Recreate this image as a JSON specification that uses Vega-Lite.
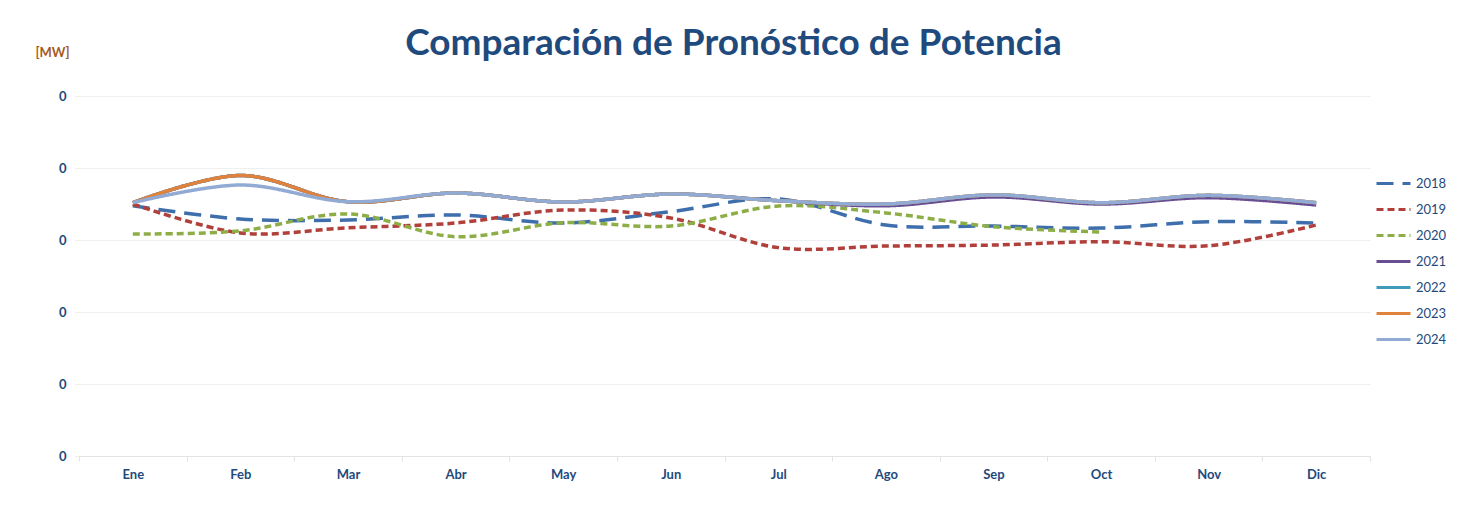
{
  "$schema": "https://vega.github.io/schema/vega-lite/v6.json",
  "width": 1291,
  "height": 360,
  "autosize": {"type": "none"},
  "padding": {"left": 79, "top": 96, "right": 92, "bottom": 60},
  "background": "white",
  "title": {
    "text": "Comparación de Pronóstico de Potencia",
    "font": "Lato",
    "fontSize": 37,
    "fontWeight": "bold",
    "color": "#1F4A7D",
    "anchor": "middle",
    "dx": 9,
    "dy": 37,
    "offset": 20
  },
  "data": {
    "values": [
      {"mes": "Ene", "anio": "2018", "valor": 0.1738},
      {"mes": "Feb", "anio": "2018", "valor": 0.1646},
      {"mes": "Mar", "anio": "2018", "valor": 0.1639},
      {"mes": "Abr", "anio": "2018", "valor": 0.1674},
      {"mes": "May", "anio": "2018", "valor": 0.1618},
      {"mes": "Jun", "anio": "2018", "valor": 0.1697},
      {"mes": "Jul", "anio": "2018", "valor": 0.1785},
      {"mes": "Ago", "anio": "2018", "valor": 0.1604},
      {"mes": "Sep", "anio": "2018", "valor": 0.1597},
      {"mes": "Oct", "anio": "2018", "valor": 0.1583},
      {"mes": "Nov", "anio": "2018", "valor": 0.1627},
      {"mes": "Dic", "anio": "2018", "valor": 0.1618},
      {"mes": "Ene", "anio": "2019", "valor": 0.1750},
      {"mes": "Feb", "anio": "2019", "valor": 0.1549},
      {"mes": "Mar", "anio": "2019", "valor": 0.1585},
      {"mes": "Abr", "anio": "2019", "valor": 0.1618},
      {"mes": "May", "anio": "2019", "valor": 0.1708},
      {"mes": "Jun", "anio": "2019", "valor": 0.1653},
      {"mes": "Jul", "anio": "2019", "valor": 0.1447},
      {"mes": "Ago", "anio": "2019", "valor": 0.1458},
      {"mes": "Sep", "anio": "2019", "valor": 0.1465},
      {"mes": "Oct", "anio": "2019", "valor": 0.1488},
      {"mes": "Nov", "anio": "2019", "valor": 0.1460},
      {"mes": "Dic", "anio": "2019", "valor": 0.1604},
      {"mes": "Ene", "anio": "2020", "valor": 0.1542},
      {"mes": "Feb", "anio": "2020", "valor": 0.1563},
      {"mes": "Mar", "anio": "2020", "valor": 0.1681},
      {"mes": "Abr", "anio": "2020", "valor": 0.1523},
      {"mes": "May", "anio": "2020", "valor": 0.1620},
      {"mes": "Jun", "anio": "2020", "valor": 0.1597},
      {"mes": "Jul", "anio": "2020", "valor": 0.1736},
      {"mes": "Ago", "anio": "2020", "valor": 0.1688},
      {"mes": "Sep", "anio": "2020", "valor": 0.1592},
      {"mes": "Oct", "anio": "2020", "valor": 0.1556},
      {"mes": "Ene", "anio": "2021", "valor": 0.1759},
      {"mes": "Feb", "anio": "2021", "valor": 0.1948},
      {"mes": "Mar", "anio": "2021", "valor": 0.1766},
      {"mes": "Abr", "anio": "2021", "valor": 0.1826},
      {"mes": "May", "anio": "2021", "valor": 0.1764},
      {"mes": "Jun", "anio": "2021", "valor": 0.1819},
      {"mes": "Jul", "anio": "2021", "valor": 0.1773},
      {"mes": "Ago", "anio": "2021", "valor": 0.1738},
      {"mes": "Sep", "anio": "2021", "valor": 0.1799},
      {"mes": "Oct", "anio": "2021", "valor": 0.1750},
      {"mes": "Nov", "anio": "2021", "valor": 0.1794},
      {"mes": "Dic", "anio": "2021", "valor": 0.1743},
      {"mes": "Ene", "anio": "2022", "valor": 0.1759},
      {"mes": "Feb", "anio": "2022", "valor": 0.1948},
      {"mes": "Mar", "anio": "2022", "valor": 0.1766},
      {"mes": "Abr", "anio": "2022", "valor": 0.1826},
      {"mes": "May", "anio": "2022", "valor": 0.1764},
      {"mes": "Jun", "anio": "2022", "valor": 0.1819},
      {"mes": "Jul", "anio": "2022", "valor": 0.1773},
      {"mes": "Ago", "anio": "2022", "valor": 0.1750},
      {"mes": "Sep", "anio": "2022", "valor": 0.1813},
      {"mes": "Oct", "anio": "2022", "valor": 0.1759},
      {"mes": "Nov", "anio": "2022", "valor": 0.1810},
      {"mes": "Dic", "anio": "2022", "valor": 0.1759},
      {"mes": "Ene", "anio": "2023", "valor": 0.1759},
      {"mes": "Feb", "anio": "2023", "valor": 0.1948},
      {"mes": "Mar", "anio": "2023", "valor": 0.1766},
      {"mes": "Abr", "anio": "2023", "valor": 0.1826},
      {"mes": "May", "anio": "2023", "valor": 0.1764},
      {"mes": "Jun", "anio": "2023", "valor": 0.1819},
      {"mes": "Jul", "anio": "2023", "valor": 0.1773},
      {"mes": "Ago", "anio": "2023", "valor": 0.1750},
      {"mes": "Sep", "anio": "2023", "valor": 0.1813},
      {"mes": "Oct", "anio": "2023", "valor": 0.1759},
      {"mes": "Nov", "anio": "2023", "valor": 0.1810},
      {"mes": "Dic", "anio": "2023", "valor": 0.1759},
      {"mes": "Ene", "anio": "2024", "valor": 0.1759},
      {"mes": "Feb", "anio": "2024", "valor": 0.1882},
      {"mes": "Mar", "anio": "2024", "valor": 0.1766},
      {"mes": "Abr", "anio": "2024", "valor": 0.1826},
      {"mes": "May", "anio": "2024", "valor": 0.1764},
      {"mes": "Jun", "anio": "2024", "valor": 0.1819},
      {"mes": "Jul", "anio": "2024", "valor": 0.1773},
      {"mes": "Ago", "anio": "2024", "valor": 0.1750},
      {"mes": "Sep", "anio": "2024", "valor": 0.1813},
      {"mes": "Oct", "anio": "2024", "valor": 0.1759},
      {"mes": "Nov", "anio": "2024", "valor": 0.1810},
      {"mes": "Dic", "anio": "2024", "valor": 0.1759}
    ]
  },
  "mark": {"type": "line", "interpolate": "cardinal", "strokeWidth": 3.5, "strokeCap": "butt"},
  "encoding": {
    "x": {
      "field": "mes",
      "type": "ordinal",
      "sort": ["Ene", "Feb", "Mar", "Abr", "May", "Jun", "Jul", "Ago", "Sep", "Oct", "Nov", "Dic"],
      "scale": {"type": "band", "paddingInner": 0, "paddingOuter": 0},
      "bandPosition": 0.5,
      "axis": {
        "title": null,
        "labelAngle": 0,
        "labelFont": "Lato",
        "labelFontWeight": "bold",
        "labelFontSize": 13,
        "labelColor": "#1F4A7D",
        "labelPadding": 7,
        "tickBand": "extent",
        "tickSize": 5,
        "tickColor": "#E3E3E3",
        "domainColor": "#E3E3E3",
        "grid": false
      }
    },
    "y": {
      "field": "valor",
      "type": "quantitative",
      "scale": {"domain": [0, 0.25], "nice": false, "zero": true},
      "axis": {
        "title": "[MW]",
        "titleAngle": 0,
        "titleX": -27,
        "titleY": -44,
        "titleAlign": "center",
        "titleBaseline": "middle",
        "titleColor": "#A65A1E",
        "titleFont": "Lato",
        "titleFontSize": 13,
        "titleFontWeight": "bold",
        "values": [0, 0.05, 0.1, 0.15, 0.2, 0.25],
        "format": ".0f",
        "labelFont": "Lato",
        "labelFontWeight": "bold",
        "labelFontSize": 13,
        "labelColor": "#1F4A7D",
        "labelPadding": 9,
        "tickSize": 4,
        "tickColor": "#EDEDED",
        "domain": false,
        "grid": true,
        "gridColor": "#EFEFEF"
      }
    },
    "color": {
      "field": "anio",
      "type": "nominal",
      "title": null,
      "scale": {
        "domain": ["2018", "2019", "2020", "2021", "2022", "2023", "2024"],
        "range": ["#3E6EAB", "#B13F3A", "#8DAE47", "#6A4E93", "#3F9BB7", "#E0823B", "#92ABD5"]
      },
      "legend": {"symbolSize": 1156, "symbolStrokeWidth": 3, "rowPadding": 0}
    },
    "strokeDash": {
      "field": "anio",
      "type": "nominal",
      "title": null,
      "scale": {
        "domain": ["2018", "2019", "2020", "2021", "2022", "2023", "2024"],
        "range": [[17, 9], [7, 4], [7, 4], [1, 0], [1, 0], [1, 0], [1, 0]]
      }
    }
  },
  "config": {
    "view": {"stroke": null},
    "legend": {
      "orient": "none",
      "legendX": 1296,
      "legendY": 69,
      "symbolType": "stroke",
      "symbolSize": 1156,
      "symbolStrokeWidth": 3,
      "labelFont": "Lato",
      "labelFontSize": 13,
      "labelColor": "#1F4A7D",
      "labelOffset": 4,
      "rowPadding": 0
    }
  }
}
